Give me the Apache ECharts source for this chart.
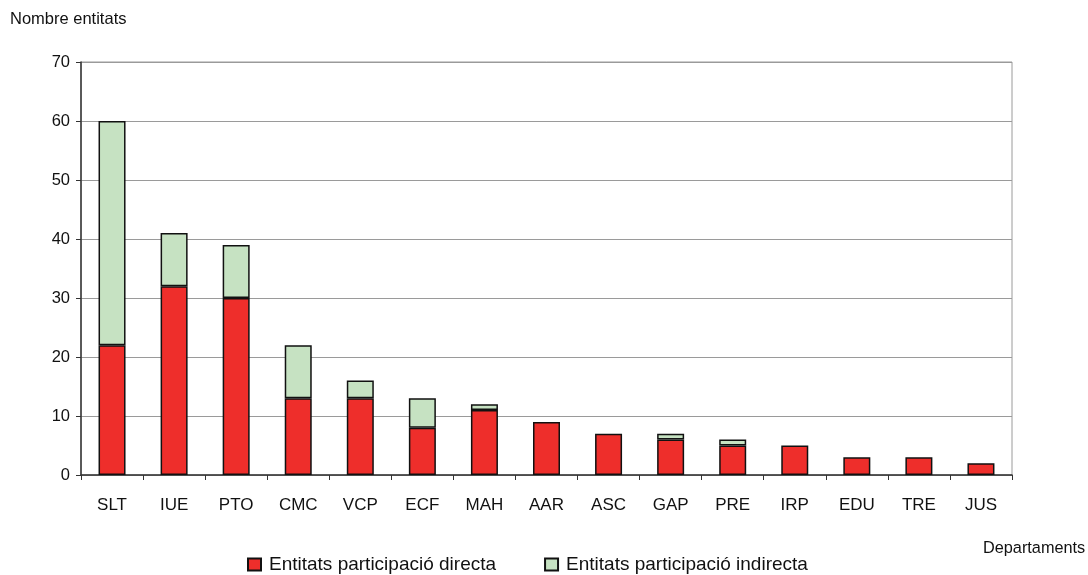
<!DOCTYPE html>
<html>
<head>
<meta charset="utf-8">
<script src="https://cdn.jsdelivr.net/npm/echarts@6/dist/echarts.min.js"></script>
<style>
  html, body { margin: 0; padding: 0; background: #fff; }
  #chart { width: 1088px; height: 575px; }
</style>
</head>
<body>
<div id="chart"></div>
<script>
// Entities per department, split by direct and indirect participation
const departments = ['SLT', 'IUE', 'PTO', 'CMC', 'VCP', 'ECF', 'MAH', 'AAR', 'ASC', 'GAP', 'PRE', 'IRP', 'EDU', 'TRE', 'JUS'];
const directa   = [22, 32, 30, 13, 13, 8, 11, 9, 7, 6, 5, 5, 3, 3, 2];
const indirecta = [38, 9, 9, 9, 3, 5, 1, 0, 0, 1, 1, 0, 0, 0, 0];
const yTicks = { min: 0, max: 70, interval: 10 };

const font = 'Liberation Sans, Arial, sans-serif';
const chart = echarts.init(document.getElementById('chart'), null, { renderer: 'canvas' });

chart.setOption({
  animation: false,
  backgroundColor: '#ffffff',
  grid: {
    left: 81, right: 76, top: 62, bottom: 100,
    show: true, borderColor: '#9a9a9a', borderWidth: 1, backgroundColor: 'transparent'
  },
  graphic: [
    { type: 'text', left: 10, top: 11,
      style: { text: 'Nombre entitats', font: '16.5px ' + font, fill: '#111' } },
    { type: 'text', left: 983, top: 541,
      style: { text: 'Departaments', font: '16.3px ' + font, fill: '#111' } }
  ],
  legend: {
    left: 247, top: 555, padding: 0,
    icon: 'rect',
    itemWidth: 13, itemHeight: 12, itemGap: 48,
    textStyle: { fontFamily: font, fontSize: 19, color: '#111', padding: [0, 0, 0, 3] },
    data: ['Entitats participació directa', 'Entitats participació indirecta']
  },
  xAxis: {
    type: 'category',
    data: departments,
    axisLine: { lineStyle: { color: '#333', width: 1.5 } },
    axisTick: { show: true, length: 5, lineStyle: { color: '#333' } },
    axisLabel: { fontFamily: font, fontSize: 17, color: '#111', margin: 22 },
    splitLine: { show: false }
  },
  yAxis: {
    type: 'value',
    min: yTicks.min, max: yTicks.max, interval: yTicks.interval,
    axisLine: { show: true, lineStyle: { color: '#333', width: 1.5 } },
    axisTick: { show: true, length: 5, lineStyle: { color: '#333' } },
    axisLabel: { fontFamily: font, fontSize: 16.5, color: '#111', margin: 11 },
    splitLine: { show: true, lineStyle: { color: '#9a9a9a', width: 1.2 } }
  },
  series: [
    {
      name: 'Entitats participació directa',
      type: 'bar', stack: 'total', barWidth: 27,
      data: directa,
      itemStyle: { color: '#ee2e2b', borderColor: '#111', borderWidth: 1.5 }
    },
    {
      name: 'Entitats participació indirecta',
      type: 'bar', stack: 'total', barWidth: 27,
      data: indirecta.map(v => (v === 0 ? '-' : v)),
      itemStyle: { color: '#c6e2c2', borderColor: '#111', borderWidth: 1.5 }
    }
  ]
});
</script>
</body>
</html>
